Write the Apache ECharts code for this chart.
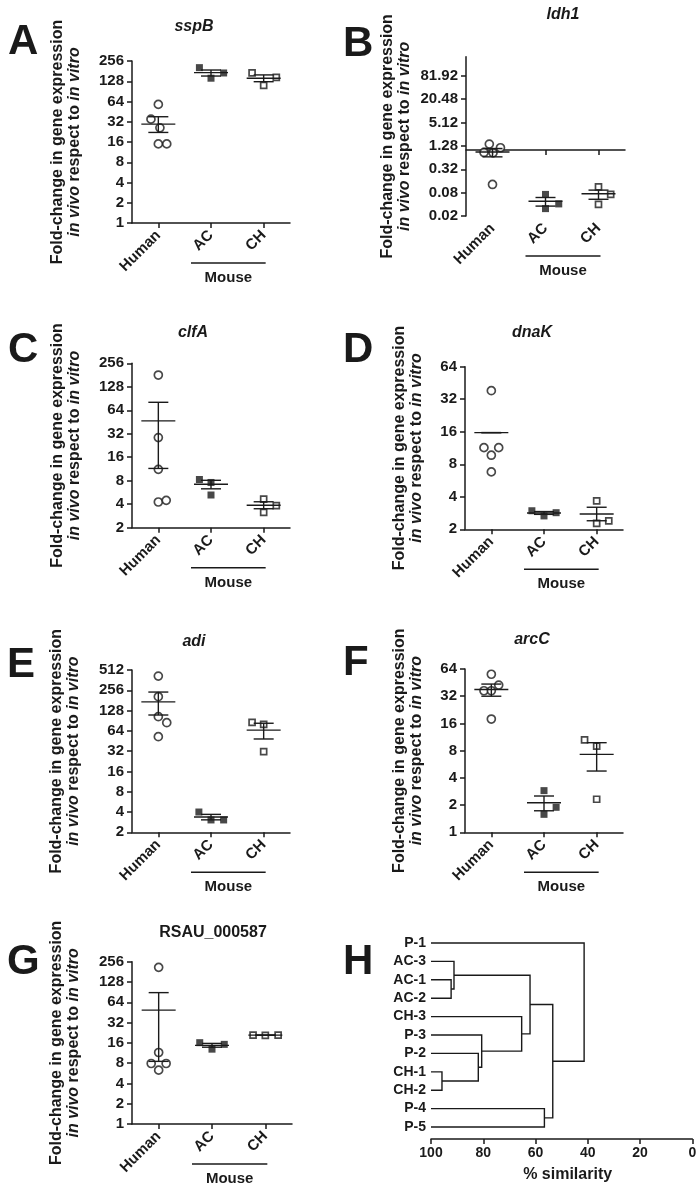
<!DOCTYPE html>
<html>
<head>
<meta charset="utf-8">
<script src="https://cdn.jsdelivr.net/npm/echarts@6/dist/echarts.min.js"></script>
<style>
  html, body { margin: 0; background: #fff; }
  #main { width: 700px; height: 1191px; }
</style>
</head>
<body>
<div id="main"></div>
<script>
const groups = ['Human', 'AC', 'CH'];

// fold-change values, one list per group (Human, AC, CH)
// stats = [mean, mean - SEM, mean + SEM]; jitter = horizontal dodge in category units
const sspB = [[58, 35, 26, 15, 15], [204, 142, 170], [170, 111, 146]];
const sspBStats = [[29.5, 22.2, 38], [172, 153, 188], [142, 126, 159]];
const sspBJitter = [[0, -0.14, 0.03, 0, 0.16], [-0.22, 0, 0.24], [-0.22, 0, 0.24]];

const ldh1 = [[1.43, 0.87, 0.85, 1.15, 0.13], [0.072, 0.031, 0.041], [0.113, 0.040, 0.072]];
const ldh1Stats = [[0.89, 0.67, 1.1], [0.048, 0.036, 0.06], [0.075, 0.054, 0.093]];
const ldh1Jitter = [[-0.06, -0.16, 0.01, 0.15, 0], [0, 0, 0.25], [0, 0, 0.23]];

const clfA = [[181, 28.6, 11.2, 4.27, 4.48], [8.3, 7.6, 5.25], [4.66, 3.15, 3.83]];
const clfAStats = [[46.8, 11.5, 81], [7.2, 6.3, 8.1], [3.88, 3.5, 4.3]];
const clfAJitter = [[0, 0, 0, 0, 0.15], [-0.22, 0, 0], [0, 0, 0.24]];

const dnaK = [[38.4, 11.4, 11.4, 9.7, 6.8], [2.97, 2.66, 2.85], [3.66, 2.27, 2.39]];
const dnaKStats = [[15.7, null, null], [2.83, 2.75, 2.92], [2.77, 2.4, 3.2]];
const dnaKJitter = [[0, -0.14, 0.14, 0, 0], [-0.23, 0, 0.23], [0, 0, 0.23]];

const adi = [[416, 206, 104, 84.6, 52.5], [4.0, 3.05, 3.05], [85.6, 80, 31.4]];
const adiStats = [[172.6, 110, 241], [3.37, 3.06, 3.69], [65.7, 48.5, 83]];
const adiJitter = [[0, 0, 0, 0.16, 0], [-0.23, 0, 0.24], [-0.22, 0, 0]];

const arcC = [[56, 36.8, 36.8, 42.5, 17.9], [2.89, 1.58, 1.89], [10.5, 9.0, 2.32]];
const arcCStats = [[38, 32, 43.6], [2.12, 1.73, 2.52], [7.27, 4.76, 9.8]];
const arcCJitter = [[0, -0.14, 0, 0.14, 0], [0, 0, 0.23], [-0.23, 0, 0]];

const rsau = [[211, 11.5, 7.9, 7.9, 6.3], [16.1, 12.9, 15.2], [20.9, 20.6, 20.9]];
const rsauStats = [[48.9, 8.5, 89], [14.7, 13.8, 15.7], [20.8, 20.7, 20.9]];
const rsauJitter = [[0, 0, -0.14, 0.14, 0], [-0.23, 0, 0.23], [-0.23, 0, 0.24]];

// y tick labels
const ticks1to256 = [1, 2, 4, 8, 16, 32, 64, 128, 256];
const ticksLdh1 = [0.02, 0.08, 0.32, 1.28, 5.12, 20.48, 81.92];
const ticks2to256 = [2, 4, 8, 16, 32, 64, 128, 256];
const ticks2to64 = [2, 4, 8, 16, 32, 64];
const ticks2to512 = [2, 4, 8, 16, 32, 64, 128, 256, 512];
const ticks1to64 = [1, 2, 4, 8, 16, 32, 64];

// dendrogram (panel H)
const leafNames = ['P-1', 'AC-3', 'AC-1', 'AC-2', 'CH-3', 'P-3', 'P-2', 'CH-1', 'CH-2', 'P-4', 'P-5'];
// [node a, node b, % similarity]; new nodes are numbered from 11 on
const merges = [
  [2, 3, 92.3], [1, 11, 91.2], [7, 8, 95.8], [6, 13, 81.9], [5, 14, 80.6],
  [4, 15, 65.3], [12, 16, 62.1], [9, 10, 56.6], [17, 18, 53.4], [0, 19, 41.4]
];
const simTicks = [100, 80, 60, 40, 20, 0];

const ink = '#1a1a1a';
const FONT = '"Liberation Sans", Arial, sans-serif';
const L = Math.log2;

const panels = [
  { letter: 'A', at: [8, 42], title: 'sspB', tAt: [194, 27], vals: sspB, stats: sspBStats, dx: sspBJitter,
    ticks: ticks1to256, yMax: 256, box: [132, 61, 158, 162], nameGap: 49 },
  { letter: 'B', at: [343, 44], title: 'ldh1', tAt: [563, 15], vals: ldh1, stats: ldh1Stats, dx: ldh1Jitter,
    ticks: ticksLdh1, yMax: 256, box: [466, 56.7, 159, 159.3], nameGap: 53, baseline: true },
  { letter: 'C', at: [8, 350], title: 'clfA', tAt: [193, 333], vals: clfA, stats: clfAStats, dx: clfAJitter,
    ticks: ticks2to256, yMax: 256, box: [132, 363.3, 158, 164.4], nameGap: 49 },
  { letter: 'D', at: [343, 350], title: 'dnaK', tAt: [532, 333], vals: dnaK, stats: dnaKStats, dx: dnaKJitter,
    ticks: ticks2to64, yMax: 64, box: [465, 366.7, 158, 162.6], nameGap: 40 },
  { letter: 'E', at: [7, 665], title: 'adi', tAt: [194, 642], vals: adi, stats: adiStats, dx: adiJitter,
    ticks: ticks2to512, yMax: 512, box: [132, 670, 158, 162.3], nameGap: 50 },
  { letter: 'F', at: [343, 663], title: 'arcC', tAt: [532, 640], vals: arcC, stats: arcCStats, dx: arcCJitter,
    ticks: ticks1to64, yMax: 64, box: [465, 669, 158, 163.3], nameGap: 40 },
  { letter: 'G', at: [7, 962], title: 'RSAU_000587', upright: true, tAt: [213, 933], vals: rsau, stats: rsauStats, dx: rsauJitter,
    ticks: ticks1to256, yMax: 256, box: [132, 961.7, 160, 162.3], nameGap: 50 }
];

const lineStyle = { color: ink, width: 1.5 };
const labelFont = { fontSize: 15, fontWeight: 'bold', fontFamily: FONT, color: ink };
const marks = [
  { symbol: 'circle', symbolSize: 8, itemStyle: { color: '#fff', borderColor: ink, borderWidth: 1.7 } },
  { symbol: 'rect', symbolSize: 7, itemStyle: { color: ink } },
  { symbol: 'rect', symbolSize: 6, itemStyle: { color: '#fff', borderColor: ink, borderWidth: 1.7 } }
];
const fmt = v => String(parseFloat(Math.pow(2, v).toFixed(2)));

function renderStats (params, api) {
  const c = api.coord([api.value(0), api.value(1)]);
  const lo = api.coord([api.value(0), api.value(2)]);
  const hi = api.coord([api.value(0), api.value(3)]);
  const seg = (x1, y1, x2, y2) => ({ type: 'line', shape: { x1, y1, x2, y2 }, style: { stroke: ink, lineWidth: 1.4 } });
  return {
    type: 'group',
    children: [
      seg(c[0] - 17, c[1], c[0] + 17, c[1]),
      seg(c[0], lo[1], c[0], hi[1]),
      seg(c[0] - 10, lo[1], c[0] + 10, lo[1]),
      seg(c[0] - 10, hi[1], c[0] + 10, hi[1])
    ]
  };
}

function renderBranch (params, api) {
  const pts = [
    api.coord([api.value(0), api.value(1)]),
    api.coord([api.value(4), api.value(1)]),
    api.coord([api.value(4), api.value(3)]),
    api.coord([api.value(2), api.value(3)])
  ];
  return { type: 'polyline', shape: { points: pts }, style: { stroke: ink, lineWidth: 1.4, fill: null } };
}

const grid = [], xAxis = [], yAxis = [], series = [];
const labelAxis = [];

panels.forEach((p, i) => {
  grid.push({ left: p.box[0], top: p.box[1], width: p.box[2], height: p.box[3] });
  labelAxis.push(xAxis.length);
  xAxis.push({
    gridIndex: i, type: 'value', min: 0.5, max: 3.5, position: 'bottom',
    splitLine: { show: false },
    axisLine: { show: !p.baseline, onZero: false, lineStyle },
    axisTick: { show: !p.baseline, customValues: [1, 2, 3], length: 5, lineStyle },
    axisLabel: Object.assign({ customValues: [1, 2, 3], formatter: v => groups[Math.round(v) - 1], rotate: 45, margin: 10 }, labelFont)
  });
  if (p.baseline) {
    // x axis line drawn at fold-change = 1
    xAxis.push({
      gridIndex: i, type: 'value', min: 0.5, max: 3.5, position: 'bottom',
      splitLine: { show: false },
      axisLine: { show: true, onZero: true, onZeroAxisIndex: i, lineStyle },
      axisTick: { show: true, customValues: [1, 2, 3], length: 5, lineStyle },
      axisLabel: { show: false }
    });
  }
  const tv = p.ticks.map(L);
  yAxis.push({
    gridIndex: i, type: 'value', min: L(p.ticks[0]), max: L(p.yMax),
    splitLine: { show: false },
    axisLine: { show: true, onZero: false, lineStyle },
    axisTick: { show: true, customValues: tv, length: 5, lineStyle },
    axisLabel: Object.assign({ customValues: tv, formatter: fmt, margin: 8 }, labelFont),
    name: '{r|Fold-change in gene expression}\n{i|in vivo}{r| respect to }{i|in vitro}',
    nameLocation: 'middle', nameRotate: 90, nameGap: p.nameGap, nameMoveOverlap: false,
    nameTextStyle: {
      fontSize: 16, fontWeight: 'bold', fontFamily: FONT, color: ink, lineHeight: 17,
      rich: {
        r: { fontSize: 16, fontWeight: 'bold', fontFamily: FONT, color: ink, lineHeight: 17 },
        i: { fontSize: 16, fontWeight: 'bold', fontStyle: 'italic', fontFamily: FONT, color: ink, lineHeight: 17 }
      }
    }
  });
  p.vals.forEach((vals, g) => {
    series.push(Object.assign({
      type: 'scatter', xAxisIndex: labelAxis[i], yAxisIndex: i, z: 3,
      data: vals.map((v, k) => [g + 1 + p.dx[g][k], L(v)])
    }, marks[g]));
  });
  series.push({
    type: 'custom', xAxisIndex: labelAxis[i], yAxisIndex: i, z: 4, silent: true,
    renderItem: renderStats,
    data: p.stats.map((s, g) => [g + 1, L(s[0]), L(s[1] == null ? s[0] : s[1]), L(s[2] == null ? s[0] : s[2])])
  });
});

// panel H: dendrogram
const hGrid = grid.length;
grid.push({ left: 431, top: 933.8, width: 261.3, height: 205.2 });
xAxis.push({
  gridIndex: hGrid, type: 'value', min: 0, max: 100, inverse: true,
  splitLine: { show: false },
  axisLine: { show: true, onZero: false, lineStyle },
  axisTick: { show: true, customValues: simTicks, length: 5, lineStyle },
  axisLabel: Object.assign({ customValues: simTicks, margin: 7 }, labelFont, { fontSize: 14 }),
  name: '% similarity', nameLocation: 'middle', nameGap: 28, nameMoveOverlap: false,
  nameTextStyle: { fontSize: 16, fontWeight: 'bold', fontFamily: FONT, color: ink, padding: [0, 0, 0, 12] }
});
yAxis.push({
  gridIndex: hGrid, type: 'value', min: -0.5, max: 10.65, inverse: true,
  splitLine: { show: false },
  axisLine: { show: false, onZero: false },
  axisTick: { show: false },
  axisLabel: Object.assign({
    customValues: leafNames.map((n, k) => k), formatter: v => leafNames[Math.round(v)], margin: 5
  }, labelFont, { fontSize: 14 })
});

const nodeY = leafNames.map((n, k) => k);
const nodeSim = leafNames.map(() => 100);
const branches = merges.map(([a, b, s]) => {
  const row = [nodeSim[a], nodeY[a], nodeSim[b], nodeY[b], s];
  nodeY.push((nodeY[a] + nodeY[b]) / 2);
  nodeSim.push(s);
  return row;
});
series.push({
  type: 'custom', xAxisIndex: xAxis.length - 1, yAxisIndex: yAxis.length - 1, silent: true,
  encode: { x: [0, 2, 4], y: [1, 3] },
  renderItem: renderBranch,
  data: branches
});

const chart = echarts.init(document.getElementById('main'));
chart.setOption({
  backgroundColor: '#fff',
  animation: false,
  grid, xAxis, yAxis, series
});

// panel letters, gene titles and the "Mouse" brackets
const graphic = [];
const text = (x, y, s, font, align) => ({
  type: 'text', x, y, silent: true,
  style: { text: s, font, fill: ink, align: align || 'center', verticalAlign: 'middle', textAlign: align || 'center', textVerticalAlign: 'middle' }
});
panels.forEach((p, i) => {
  graphic.push(text(p.at[0], p.at[1], p.letter, 'bold 42px ' + FONT, 'left'));
  graphic.push(text(p.tAt[0], p.tAt[1], p.title, (p.upright ? '' : 'italic ') + 'bold 16px ' + FONT));
  const xAC = chart.convertToPixel({ xAxisIndex: labelAxis[i] }, 2);
  const xCH = chart.convertToPixel({ xAxisIndex: labelAxis[i] }, 3);
  const yBase = chart.convertToPixel({ yAxisIndex: i }, L(p.ticks[0]));
  const x1 = xAC - 20, x2 = xCH + 2;
  graphic.push({ type: 'line', silent: true, shape: { x1, y1: yBase + 40, x2, y2: yBase + 40 }, style: { stroke: ink, lineWidth: 1.4 } });
  graphic.push(text((x1 + x2) / 2, yBase + 55, 'Mouse', 'bold 15px ' + FONT));
});
graphic.push(text(343, 962, 'H', 'bold 42px ' + FONT, 'left'));
chart.setOption({ graphic });
</script>
</body>
</html>
